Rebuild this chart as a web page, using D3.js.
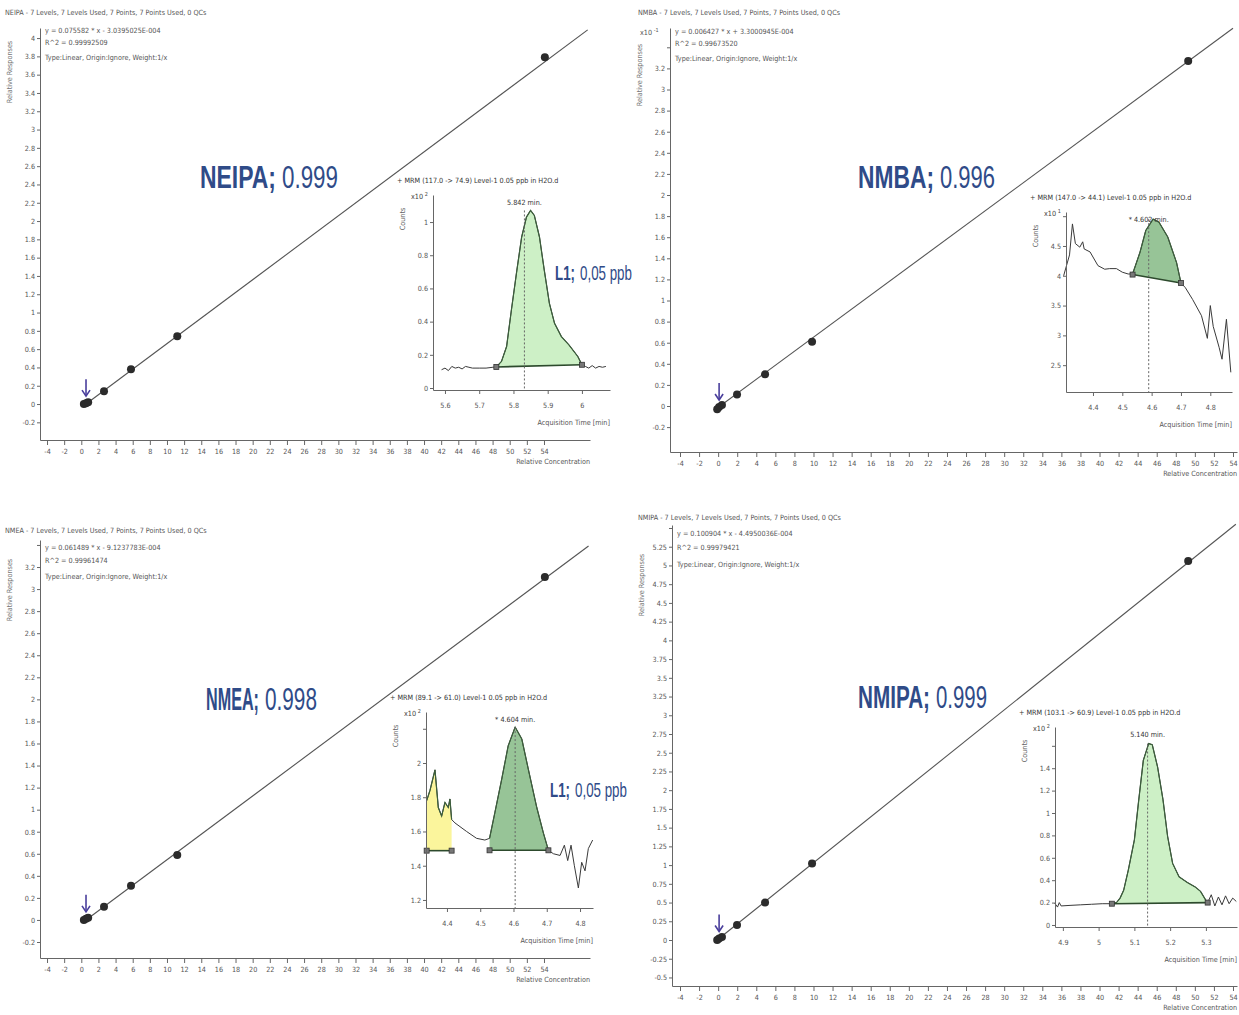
<!DOCTYPE html>
<html>
<head>
<meta charset="utf-8">
<script src="https://cdn.jsdelivr.net/npm/d3@7"></script>
<style>
body { margin: 0; background: #fff; }
svg text { font-family: "Liberation Sans Narrow", "DejaVu Sans Condensed", "Liberation Sans", sans-serif; }
</style>
</head>
<body>
<svg id="chart" width="1239" height="1015"></svg>
<script>
// ---- calibration data ----
const compounds = ["NEIPA", "NMBA", "NMEA", "NMIPA"]
const r2Short = ["0.999", "0.996", "0.998", "0.999"]
const equations = [
    "y = 0.075582 * x - 3.0395025E-004",
    "y = 0.006427 * x + 3.3000945E-004",
    "y = 0.061489 * x - 9.1237783E-004",
    "y = 0.100904 * x - 4.4950036E-004"]
const r2Full = ["R^2 = 0.99992509", "R^2 = 0.99673520", "R^2 = 0.99961474", "R^2 = 0.99979421"]
const fitType = "Type:Linear, Origin:Ignore, Weight:1/x"
const levelsText = " - 7 Levels, 7 Levels Used, 7 Points, 7 Points Used, 0 QCs"

const concTicks = d3.range(-4, 55, 2)

const neipaConc = [0.3, 0.55, 0.8, 2.65, 5.8, 11.2, 54.1]
const neipaResp = [0.0, 0.01, 0.02, 0.14, 0.38, 0.74, 3.79]
const neipaFitX = [0.55, 59.1]
const neipaFitY = [0.0, 4.09]

const nmbaConc = [-0.1, 0.1, 0.4, 1.98, 4.92, 9.85, 49.3]
const nmbaResp = [-0.03, -0.01, 0.01, 0.11, 0.3, 0.61, 3.27]
const nmbaFitX = [-0.4, 54.0]
const nmbaFitY = [-0.04, 3.58]

const nmeaConc = [0.3, 0.55, 0.8, 2.65, 5.8, 11.2, 54.1]
const nmeaResp = [0.0, 0.01, 0.02, 0.12, 0.31, 0.59, 3.11]
const nmeaFitX = [0.55, 59.2]
const nmeaFitY = [0.0, 3.39]

const nmipaConc = [-0.1, 0.1, 0.4, 1.98, 4.92, 9.85, 49.3]
const nmipaResp = [0.0, 0.02, 0.04, 0.2, 0.5, 1.02, 5.06]
const nmipaFitX = [-0.3, 54.3]
const nmipaFitY = [-0.02, 5.55]

// ---- chromatogram insets (Level-1, 0.05 ppb) ----
const mrmTitles = [
    "+ MRM (117.0 -> 74.9) Level-1 0.05 ppb in H2O.d",
    "+ MRM (147.0 -> 44.1) Level-1 0.05 ppb in H2O.d",
    "+ MRM (89.1 -> 61.0) Level-1 0.05 ppb in H2O.d",
    "+ MRM (103.1 -> 60.9) Level-1 0.05 ppb in H2O.d"]
const rtLabels = ["5.842 min.", "* 4.602 min.", "* 4.604 min.", "5.140 min."]
const rtValues = [5.832, 4.59, 4.605, 5.137]

const neipaTime = [5.59, 5.6, 5.61, 5.62, 5.63, 5.64, 5.65, 5.66, 5.67, 5.68, 5.7, 5.72, 5.74, 5.75, 5.765, 5.78, 5.794, 5.81, 5.824, 5.838, 5.85, 5.861, 5.876, 5.89, 5.905, 5.92, 5.94, 5.962, 5.988, 6.0, 6.01, 6.02, 6.03, 6.04, 6.05, 6.06, 6.07]
const neipaCounts = [0.11, 0.12, 0.105, 0.13, 0.12, 0.125, 0.115, 0.13, 0.125, 0.12, 0.12, 0.12, 0.125, 0.127, 0.16, 0.25, 0.47, 0.71, 0.91, 1.03, 1.07, 1.04, 0.91, 0.71, 0.51, 0.39, 0.31, 0.26, 0.19, 0.14, 0.13, 0.12, 0.135, 0.12, 0.13, 0.125, 0.13]

const nmbaTime = [4.3, 4.32, 4.33, 4.34, 4.355, 4.365, 4.37, 4.39, 4.417, 4.44, 4.457, 4.48, 4.5, 4.52, 4.535, 4.56, 4.58, 4.605, 4.625, 4.655, 4.685, 4.7, 4.715, 4.74, 4.77, 4.79, 4.8, 4.81, 4.83, 4.84, 4.855, 4.87]
const nmbaCounts = [4.0, 4.35, 4.87, 4.54, 4.48, 4.57, 4.45, 4.4, 4.17, 4.11, 4.12, 4.12, 4.06, 4.03, 4.03, 4.39, 4.76, 4.95, 4.9, 4.65, 4.22, 3.88, 3.8, 3.6, 3.33, 2.95, 3.5, 3.15, 2.8, 2.6, 3.27, 2.38]

const nmeaTime = [4.339, 4.349, 4.364, 4.374, 4.384, 4.394, 4.404, 4.409, 4.414, 4.424, 4.459, 4.489, 4.514, 4.528, 4.544, 4.564, 4.584, 4.605, 4.625, 4.645, 4.67, 4.69, 4.705, 4.72, 4.74, 4.753, 4.763, 4.773, 4.783, 4.795, 4.805, 4.815, 4.825, 4.838]
const nmeaCounts = [1.78, 1.84, 1.96, 1.74, 1.69, 1.77, 1.74, 1.79, 1.67, 1.65, 1.6, 1.56, 1.55, 1.56, 1.71, 1.9, 2.1, 2.21, 2.14, 1.96, 1.74, 1.59, 1.49, 1.47, 1.46, 1.52, 1.43, 1.52, 1.4, 1.27, 1.42, 1.37, 1.5, 1.55]

const nmipaTime = [4.877, 4.885, 4.89, 4.895, 4.92, 4.95, 4.98, 5.01, 5.037, 5.05, 5.06, 5.07, 5.083, 5.1, 5.112, 5.125, 5.14, 5.15, 5.165, 5.18, 5.193, 5.207, 5.225, 5.248, 5.27, 5.285, 5.3, 5.305, 5.315, 5.325, 5.335, 5.345, 5.355, 5.365, 5.375, 5.385]
const nmipaCounts = [0.196, 0.16, 0.2, 0.17, 0.175, 0.18, 0.185, 0.19, 0.19, 0.2, 0.24, 0.31, 0.49, 0.76, 1.11, 1.47, 1.62, 1.61, 1.41, 1.12, 0.79, 0.55, 0.43, 0.38, 0.34, 0.3, 0.22, 0.2, 0.27, 0.17, 0.25, 0.18, 0.26, 0.19, 0.24, 0.21]

// integrated regions: [start, end] time and baseline counts at both ends
const neipaPeaks = [{from: 5.75, to: 6.0, base: [0.127, 0.14], color: "#cdf0c6"}]
const nmbaPeaks = [{from: 4.535, to: 4.7, base: [4.02, 3.88], color: "#97c497"}]
const nmeaPeaks = [
    {from: 4.339, to: 4.414, base: [1.488, 1.488], color: "#fbf59c"},
    {from: 4.528, to: 4.705, base: [1.49, 1.49], color: "#97c497"}]
const nmipaPeaks = [{from: 5.037, to: 5.305, base: [0.19, 0.2], color: "#cdf0c6"}]

const svg = d3.select("#chart")
const textColor = "#555"
const blue = "#2f4b88"
const fs = 7.2

function styleAxis(sel) {
    sel.selectAll("path, line").attr("stroke", "#666").attr("stroke-width", 1)
    sel.selectAll("text").attr("fill", textColor).attr("font-size", fs)
}

function tickRange(lo, hi, step) {
    return d3.range(Math.round(lo / step), Math.round(hi / step) + 1).map(i => +(i * step).toFixed(2))
}

// big blue annotation: bold part + regular part, each squeezed horizontally to its width
function squeezed(g, x0, y0, size, txt, w, bold) {
    const t = g.append("text").attr("x", 0).attr("y", 0).attr("font-size", size).attr("fill", blue)
        .attr("font-weight", bold ? "bold" : "normal")
        .style("font-family", "'Liberation Sans', sans-serif").text(txt)
    const natural = t.node().getComputedTextLength()
    t.attr("transform", `translate(${x0},${y0}) scale(${w / natural},1)`)
}

function blueLabel(g, x0, y0, size, bold, bw, rest, rw, gap) {
    squeezed(g, x0, y0, size, bold, bw, true)
    squeezed(g, x0 + bw + gap, y0, size, rest, rw, false)
}

function drawCalibration(p) {
    const g = svg.append("g")
    const x = d3.scaleLinear().domain(p.xDomain).range([p.left, p.right])
    const y = d3.scaleLinear().domain(p.yDomain).range([p.bottom, p.top])

    g.append("text").attr("x", p.headX).attr("y", p.headY)
        .attr("font-size", fs).attr("fill", textColor).text(p.name + levelsText)
    const info = [p.eq, p.r2, fitType]
    info.forEach((t, i) => {
        g.append("text").attr("x", p.left + 5).attr("y", p.infoY + i * p.infoGap[i])
            .attr("font-size", fs).attr("fill", textColor).text(t)
    })
    g.append("text")
        .attr("transform", `translate(${p.left - 28},${p.labelY}) rotate(-90)`)
        .attr("text-anchor", "middle").attr("font-size", fs).attr("fill", "#777")
        .text("Relative Responses")
    if (p.mult) {
        const m = g.append("text").attr("x", p.left - 30).attr("y", p.infoY + 1)
            .attr("font-size", fs).attr("fill", textColor).text("x10")
        m.append("tspan").attr("dy", -3).attr("font-size", 5.5).text(" " + p.mult)
    }

    const xa = g.append("g").attr("transform", `translate(0,${p.bottom})`)
        .call(d3.axisBottom(x).tickValues(concTicks).tickSize(5).tickSizeOuter(0).tickPadding(4).tickFormat(String))
    styleAxis(xa)
    const ya = g.append("g").attr("transform", `translate(${p.left},0)`)
        .call(d3.axisLeft(y).tickValues(p.yTicks).tickSize(3).tickSizeOuter(0).tickPadding(2)
            .tickFormat(d => p.yBlank.includes(d) ? "" : String(d)))
    styleAxis(ya)
    g.append("text").attr("x", p.right).attr("y", p.bottom + 24).attr("text-anchor", "end")
        .attr("font-size", fs).attr("fill", textColor).text("Relative Concentration")

    const line = d3.line().x(d => x(d[0])).y(d => y(d[1]))
    g.append("path").datum(d3.zip(p.fitX, p.fitY)).attr("d", line)
        .attr("fill", "none").attr("stroke", "#555").attr("stroke-width", 1.1)
    g.selectAll("circle.pt").data(d3.zip(p.conc, p.resp)).join("circle")
        .attr("cx", d => x(d[0])).attr("cy", d => y(d[1])).attr("r", 4)
        .attr("fill", "#2b2b2b")

    // arrow marking the lowest level
    const ax = x(p.conc[1]), ay = y(p.resp[1])
    g.append("path").attr("d", `M${ax},${ay - 24}V${ay - 8}`).attr("stroke", "#4a3f9c").attr("stroke-width", 1.6)
    g.append("path").attr("d", `M${ax - 4},${ay - 13}L${ax},${ay - 7}L${ax + 4},${ay - 13}`)
        .attr("fill", "none").attr("stroke", "#4a3f9c").attr("stroke-width", 1.6)

    blueLabel(g, p.bigX, p.bigY, 31, p.name + ";", p.bigW[0], p.r2s, p.bigW[1], 6)
}

function drawInset(s) {
    const g = svg.append("g")
    const x = d3.scaleLinear().domain(s.xDomain).range([s.left, s.right])
    const y = d3.scaleLinear().domain(s.yDomain).range([s.bottom, s.top])
    const line = d3.line().x(d => x(d[0])).y(d => y(d[1]))
    const pts = d3.zip(s.time, s.counts)

    s.peaks.forEach(pk => {
        const seg = pts.filter(d => d[0] >= pk.from && d[0] <= pk.to)
        const poly = seg.concat([[pk.to, pk.base[1]], [pk.from, pk.base[0]]])
        g.append("path").attr("d", line(poly) + "Z").attr("fill", pk.color)
    })
    g.append("path").datum(pts).attr("d", line)
        .attr("fill", "none").attr("stroke", "#3a3a3a").attr("stroke-width", 1)
    s.peaks.forEach(pk => {
        const seg = pts.filter(d => d[0] >= pk.from && d[0] <= pk.to)
        g.append("path").attr("d", line(seg)).attr("fill", "none").attr("stroke", "#3c5f3c").attr("stroke-width", 1.2)
        g.append("path").attr("d", line([[pk.from, pk.base[0]], [pk.to, pk.base[1]]]))
            .attr("stroke", "#2d4a2d").attr("stroke-width", 1.6)
        ;[[pk.from, pk.base[0]], [pk.to, pk.base[1]]].forEach(d => {
            g.append("rect").attr("x", x(d[0]) - 2.5).attr("y", y(d[1]) - 2.5)
                .attr("width", 5).attr("height", 5).attr("fill", "#777").attr("stroke", "#333").attr("stroke-width", 0.8)
        })
    })
    const peakTop = d3.max(pts, d => d[1])
    g.append("path").attr("d", line([[s.rt, peakTop], [s.rt, s.yDomain[0]]]))
        .attr("stroke", "#666").attr("stroke-width", 1).attr("stroke-dasharray", "2,2")
    g.append("text").attr("x", x(s.rt)).attr("y", s.top + 10).attr("text-anchor", "middle")
        .attr("font-size", fs).attr("fill", "#333").text(s.rtLabel)

    const xa = g.append("g").attr("transform", `translate(0,${s.bottom})`)
        .call(d3.axisBottom(x).tickValues(s.xTicks).tickSize(4).tickSizeOuter(0).tickPadding(9).tickFormat(String))
    styleAxis(xa)
    const ya = g.append("g").attr("transform", `translate(${s.left},0)`)
        .call(d3.axisLeft(y).tickValues(s.yTicks).tickSize(3).tickSizeOuter(0).tickPadding(2)
            .tickFormat(d => s.yBlank.includes(d) ? "" : String(d)))
    styleAxis(ya)

    g.append("text").attr("x", s.left - 36).attr("y", s.top - 12).attr("font-size", fs).attr("fill", "#333").text(s.title)
    g.append("text").attr("transform", `translate(${s.left - 28},${s.top + 24}) rotate(-90)`)
        .attr("text-anchor", "middle").attr("font-size", fs).attr("fill", "#666").text("Counts")
    const m = g.append("text").attr("x", s.left - 22).attr("y", s.top + 4).attr("font-size", fs).attr("fill", "#444").text("x10")
    m.append("tspan").attr("dy", -3).attr("font-size", 5.5).text(" " + s.mult)
    g.append("text").attr("x", s.right).attr("y", s.bottom + 35).attr("text-anchor", "end")
        .attr("font-size", fs).attr("fill", textColor).text("Acquisition Time [min]")

    if (s.note) blueLabel(g, s.note[0], s.note[1], 20, "L1;", 20, "0,05 ppb", 52, 5)
}

// ---- four calibration panels ----
drawCalibration({name: compounds[0], r2s: r2Short[0], eq: equations[0], r2: r2Full[0],
    conc: neipaConc, resp: neipaResp, fitX: neipaFitX, fitY: neipaFitY,
    left: 40, right: 590, top: 28, bottom: 440, xDomain: [-4.82, 59.37], yDomain: [-0.393, 4.11],
    yTicks: tickRange(-0.2, 4, 0.2), yBlank: [], headX: 5, headY: 15, infoY: 33, infoGap: [12, 12, 13.5],
    labelY: 72, bigX: 200, bigY: 188, bigW: [76, 56]})
drawCalibration({name: compounds[1], r2s: r2Short[1], eq: equations[1], r2: r2Full[1],
    conc: nmbaConc, resp: nmbaResp, fitX: nmbaFitX, fitY: nmbaFitY, mult: "-1",
    left: 670, right: 1237, top: 28, bottom: 452, xDomain: [-5.05, 54.42], yDomain: [-0.436, 3.583],
    yTicks: tickRange(-0.2, 3.4, 0.2), yBlank: [3.4], headX: 638, headY: 15, infoY: 34, infoGap: [12, 12, 13.5],
    labelY: 75, bigX: 858, bigY: 188, bigW: [76, 55]})
drawCalibration({name: compounds[2], r2s: r2Short[2], eq: equations[2], r2: r2Full[2],
    conc: nmeaConc, resp: nmeaResp, fitX: nmeaFitX, fitY: nmeaFitY,
    left: 40, right: 590, top: 540, bottom: 958, xDomain: [-4.82, 59.37], yDomain: [-0.345, 3.445],
    yTicks: tickRange(-0.2, 3.4, 0.2), yBlank: [3.4], headX: 5, headY: 533, infoY: 550, infoGap: [13, 13, 14.5],
    labelY: 590, bigX: 206, bigY: 710, bigW: [53, 52]})
drawCalibration({name: compounds[3], r2s: r2Short[3], eq: equations[3], r2: r2Full[3],
    conc: nmipaConc, resp: nmipaResp, fitX: nmipaFitX, fitY: nmipaFitY,
    left: 672, right: 1237, top: 525, bottom: 986, xDomain: [-4.84, 54.42], yDomain: [-0.614, 5.54],
    yTicks: tickRange(-0.5, 5.5, 0.25), yBlank: [5.5], headX: 638, headY: 520, infoY: 536, infoGap: [14, 14, 15.5],
    labelY: 585, bigX: 858, bigY: 708, bigW: [72, 51]})

// ---- chromatogram insets ----
drawInset({title: mrmTitles[0], rt: rtValues[0], rtLabel: rtLabels[0], time: neipaTime, counts: neipaCounts, peaks: neipaPeaks,
    left: 433, right: 610, top: 195, bottom: 390, xDomain: [5.565, 6.082], yDomain: [-0.012, 1.163],
    xTicks: [5.6, 5.7, 5.8, 5.9, 6], yTicks: [0, 0.2, 0.4, 0.6, 0.8, 1], yBlank: [], mult: "2", note: [555, 280]})
drawInset({title: mrmTitles[1], rt: rtValues[1], rtLabel: rtLabels[1], time: nmbaTime, counts: nmbaCounts, peaks: nmbaPeaks,
    left: 1066, right: 1232, top: 212, bottom: 392, xDomain: [4.308, 4.874], yDomain: [2.05, 5.07],
    xTicks: [4.4, 4.5, 4.6, 4.7, 4.8], yTicks: [2.5, 3, 3.5, 4, 4.5, 5], yBlank: [5], mult: "1"})
drawInset({title: mrmTitles[2], rt: rtValues[2], rtLabel: rtLabels[2], time: nmeaTime, counts: nmeaCounts, peaks: nmeaPeaks,
    left: 426, right: 593, top: 712, bottom: 908, xDomain: [4.337, 4.839], yDomain: [1.153, 2.298],
    xTicks: [4.4, 4.5, 4.6, 4.7, 4.8], yTicks: [1.2, 1.4, 1.6, 1.8, 2, 2.2], yBlank: [2.2], mult: "2", note: [550, 797]})
drawInset({title: mrmTitles[3], rt: rtValues[3], rtLabel: rtLabels[3], time: nmipaTime, counts: nmipaCounts, peaks: nmipaPeaks,
    left: 1055, right: 1237, top: 727, bottom: 927, xDomain: [4.878, 5.387], yDomain: [-0.018, 1.768],
    xTicks: [4.9, 5, 5.1, 5.2, 5.3], yTicks: [0, 0.2, 0.4, 0.6, 0.8, 1, 1.2, 1.4, 1.6], yBlank: [1.6], mult: "2"})
</script>
</body>
</html>
